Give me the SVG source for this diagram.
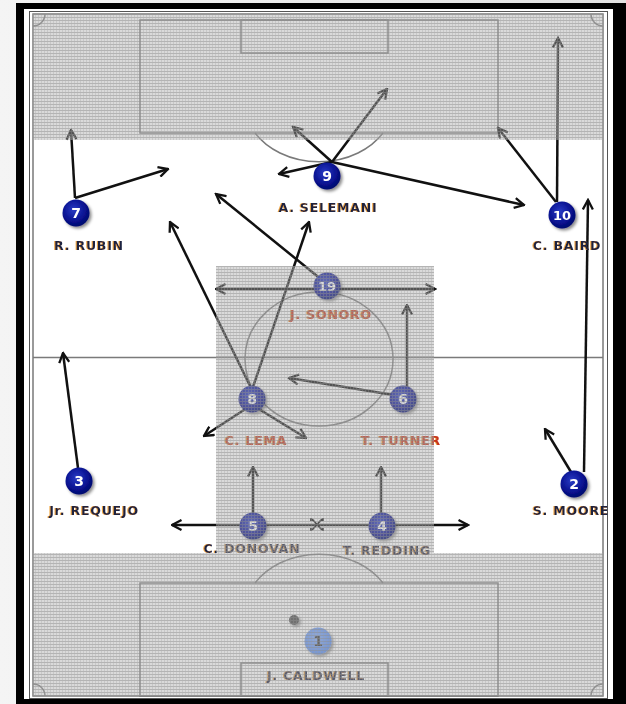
<svg xmlns="http://www.w3.org/2000/svg" width="626" height="704" viewBox="0 0 626 704">
<style>
.fl{fill:none;stroke:#7a7a7a;stroke-width:1.5}
.ar{fill:none;stroke:#111;stroke-width:2.5;marker-end:url(#ah)}
.node{fill:url(#ng);filter:url(#sh)}
.num{font-family:"DejaVu Sans",sans-serif;font-weight:bold;font-size:14px;fill:#fff;text-anchor:middle}
.lbl{font-family:"DejaVu Sans",sans-serif;font-weight:bold;font-size:12.5px;letter-spacing:0.8px;fill:#1c2340;text-anchor:middle;filter:url(#os)}
.red{fill:#c8301c}
.mul{fill:#d6d6d6;mix-blend-mode:multiply}
.wash{fill:#e4e4e4;fill-opacity:0.32}
.grid{fill:url(#dots)}
</style>
<defs>
<linearGradient id="bg" x1="0" y1="0" x2="1" y2="0">
<stop offset="0" stop-color="#f4f4f4"/><stop offset="1" stop-color="#e2e2e2"/>
</linearGradient>
<radialGradient id="ng" cx="0.42" cy="0.38" r="0.65">
<stop offset="0" stop-color="#2a3cc4"/><stop offset="0.6" stop-color="#0a1494"/><stop offset="1" stop-color="#00066a"/>
</radialGradient>
<radialGradient id="ng1" cx="0.42" cy="0.38" r="0.65">
<stop offset="0" stop-color="#7eaaff"/><stop offset="1" stop-color="#4f86f0"/>
</radialGradient>
<filter id="sh" x="-50%" y="-50%" width="200%" height="200%">
<feDropShadow dx="2" dy="2" stdDeviation="1.5" flood-color="#000" flood-opacity="0.45"/>
</filter>
<filter id="os" x="-10%" y="-30%" width="120%" height="160%">
<feDropShadow dx="-1" dy="0" stdDeviation="0.3" flood-color="#f0a030" flood-opacity="0.9"/>
</filter>
<marker id="ah" viewBox="0 0 12 12" refX="10.5" refY="6" markerWidth="12" markerHeight="12" markerUnits="userSpaceOnUse" orient="auto-start-reverse">
<path d="M1,1 L10.5,6 L1,11" fill="none" stroke="#111" stroke-width="2.3"/>
</marker>
<pattern id="dots" width="3" height="3" patternUnits="userSpaceOnUse">
<rect x="0" y="2" width="3" height="1" fill="#8e8e8e" fill-opacity="0.5"/>
<rect x="2" y="0" width="1" height="2" fill="#a0a0a0" fill-opacity="0.3"/>
</pattern>
</defs>

<!-- frame -->
<rect width="626" height="704" fill="url(#bg)"/>
<rect x="16" y="3" width="610" height="701" fill="#000"/>
<rect x="24" y="9" width="589" height="690" fill="#fff"/>
<rect x="29.5" y="11.5" width="578" height="687" fill="none" stroke="#555" stroke-width="1"/>

<!-- field -->
<g id="field">
<rect x="33" y="14" width="570" height="682" fill="#fff" class="fl"/>
<line x1="33" y1="357.5" x2="603" y2="357.5" class="fl"/>
<ellipse cx="319" cy="359" rx="74" ry="67" class="fl"/>
<rect x="140" y="20" width="358" height="113" class="fl"/>
<rect x="241" y="20" width="147" height="33" class="fl"/>
<path d="M255,133 A75,60 0 0 0 383,133" class="fl"/>
<path d="M33,26 A12,12 0 0 0 45,14" class="fl"/>
<path d="M591,14 A12,12 0 0 0 603,26" class="fl"/>
<rect x="140" y="583" width="358" height="113" class="fl"/>
<rect x="241" y="663" width="147" height="33" class="fl"/>
<path d="M255,583 A75,60 0 0 1 383,583" class="fl"/>
<path d="M33,684 A12,12 0 0 1 45,696" class="fl"/>
<path d="M591,696 A12,12 0 0 1 603,684" class="fl"/>
</g>

<!-- connectors -->
<g id="connectors">
<line x1="75" y1="198" x2="71" y2="130" class="ar"/>
<line x1="75" y1="198" x2="168" y2="169" class="ar"/>
<line x1="332" y1="162" x2="279" y2="174" class="ar"/>
<line x1="332" y1="162" x2="293" y2="127" class="ar"/>
<line x1="332" y1="162" x2="387" y2="89" class="ar"/>
<line x1="332" y1="162" x2="524" y2="205" class="ar"/>
<line x1="556" y1="202" x2="498" y2="128" class="ar"/>
<line x1="557" y1="202" x2="558" y2="38" class="ar"/>
<line x1="584" y1="472" x2="588" y2="200" class="ar"/>
<line x1="571" y1="472" x2="545" y2="429" class="ar"/>
<line x1="78" y1="468" x2="63" y2="353" class="ar"/>
<line x1="322" y1="280" x2="216" y2="194" class="ar"/>
<line x1="216" y1="289" x2="435" y2="289" class="ar" style="marker-start:url(#ah)"/>
<line x1="252" y1="390" x2="170" y2="222" class="ar"/>
<line x1="252" y1="390" x2="309" y2="222" class="ar"/>
<line x1="250" y1="406" x2="204" y2="436" class="ar"/>
<line x1="254" y1="406" x2="306" y2="438" class="ar"/>
<line x1="400" y1="396" x2="289" y2="378" class="ar"/>
<line x1="407" y1="396" x2="407" y2="305" class="ar"/>
<line x1="253" y1="518" x2="253" y2="467" class="ar"/>
<line x1="381" y1="518" x2="381" y2="467" class="ar"/>
<line x1="253" y1="525" x2="172" y2="525" class="ar"/>
<line x1="381" y1="525" x2="468" y2="525" class="ar"/>
<line x1="253" y1="525" x2="381" y2="525" stroke="#111" stroke-width="2.5"/>
<path d="M312,519 L322,530 M322,519 L312,530 M311,518 L311,521 M323,518 L323,521 M311,528 L311,531 M323,528 L323,531" stroke="#111" stroke-width="1.8" fill="none"/>
</g>

<!-- nodes -->
<g id="n7"><circle cx="76" cy="213" r="13.5" class="node"/><text x="76" y="218" class="num">7</text><text x="89" y="250" class="lbl">R. RUBIN</text></g>
<g id="n9"><circle cx="327" cy="176" r="13.5" class="node"/><text x="327" y="181" class="num">9</text><text x="328" y="212" class="lbl">A. SELEMANI</text></g>
<g id="n10"><circle cx="562" cy="215" r="13.5" class="node"/><text x="562" y="220" class="num" style="font-size:13px">10</text><text x="567" y="250" class="lbl">C. BAIRD</text></g>
<g id="n19"><circle cx="327" cy="286" r="13.5" class="node"/><text x="327" y="291" class="num" style="font-size:13px">19</text><text x="331" y="319" class="lbl red">J. SONORO</text></g>
<g id="n8"><circle cx="252" cy="399" r="13.5" class="node"/><text x="252" y="404" class="num">8</text><text x="256" y="445" class="lbl red">C. LEMA</text></g>
<g id="n6"><circle cx="403" cy="399" r="13.5" class="node"/><text x="403" y="404" class="num">6</text><text x="401" y="445" class="lbl red">T. TURNER</text></g>
<g id="n3"><circle cx="79" cy="481" r="13.5" class="node"/><text x="79" y="486" class="num">3</text><text x="94" y="515" class="lbl">Jr. REQUEJO</text></g>
<g id="n2"><circle cx="574" cy="484" r="13.5" class="node"/><text x="574" y="489" class="num">2</text><text x="571" y="515" class="lbl">S. MOORE</text></g>
<g id="n5"><circle cx="253" cy="526" r="13.5" class="node"/><text x="253" y="531" class="num">5</text><text x="252" y="553" class="lbl">C. DONOVAN</text></g>
<g id="n4"><circle cx="382" cy="526" r="13.5" class="node"/><text x="382" y="531" class="num">4</text><text x="387" y="555" class="lbl">T. REDDING</text></g>
<g id="n1"><circle cx="318" cy="641" r="13.5" fill="url(#ng1)" filter="url(#sh)"/><text x="318" y="646" class="num" style="fill:#333">1</text><text x="316" y="680" class="lbl">J. CALDWELL</text></g>
<g id="ball"><circle cx="294" cy="620" r="5" fill="#444" filter="url(#sh)"/></g>

<!-- shaded overlays -->
<g id="shade">
<rect x="33" y="14" width="570" height="126" class="mul"/>
<rect x="216" y="266" width="218" height="287" class="mul"/>
<rect x="33" y="553" width="570" height="143" class="mul"/>
<rect x="33" y="14" width="570" height="126" class="wash"/>
<rect x="216" y="266" width="218" height="287" class="wash"/>
<rect x="33" y="553" width="570" height="143" class="wash"/>
<rect x="33" y="14" width="570" height="126" class="grid"/>
<rect x="216" y="266" width="218" height="287" class="grid"/>
<rect x="33" y="553" width="570" height="143" class="grid"/>
</g>
</svg>
